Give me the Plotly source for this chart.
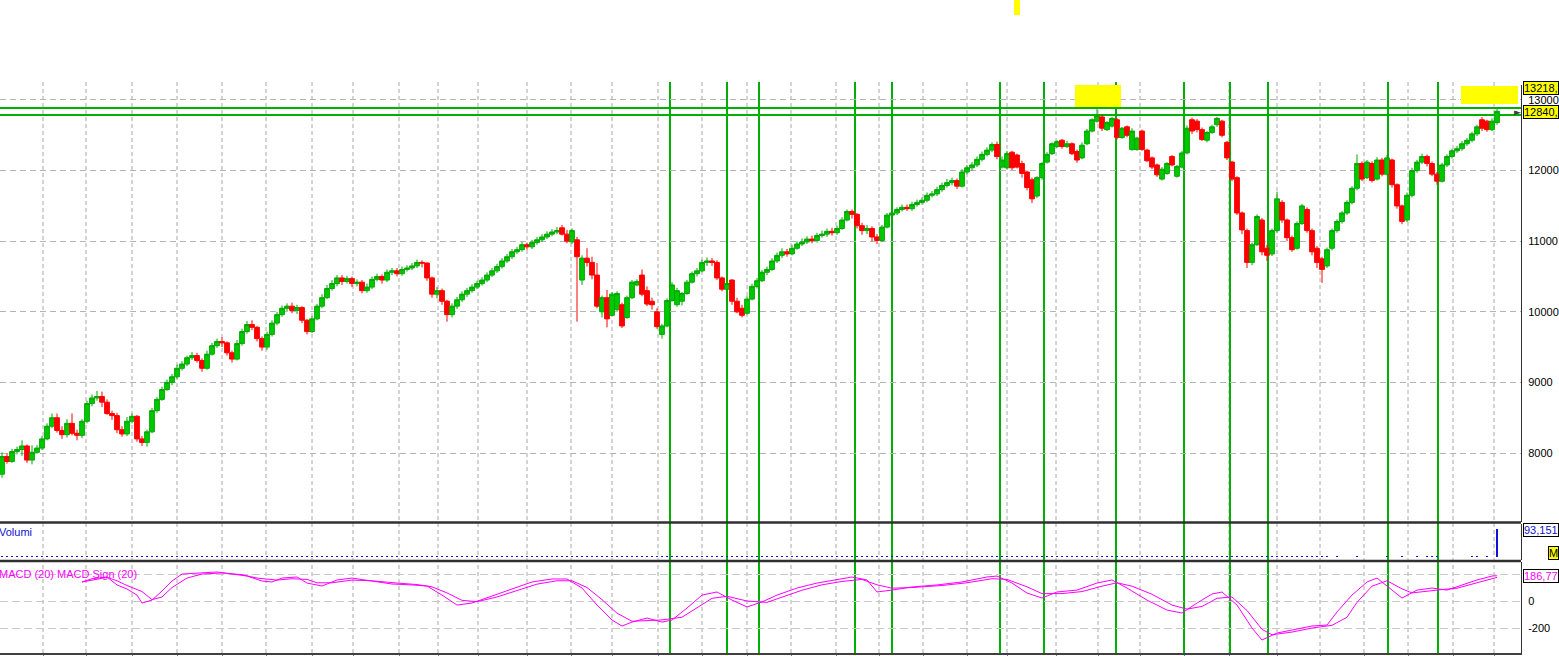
import plotly.graph_objects as go

# ---------------- data ----------------
opens = [
 7700,7950,7880,8020,8050,8100,7900,8010,8070,8200,8380,8500,8320,8260,8420,8280,8250,8450,8700,8780,
 8800,8720,8560,8530,8330,8270,8450,8520,8200,8150,8300,8600,8760,8900,9000,9080,9200,9260,9350,9380,
 9310,9200,9400,9520,9580,9560,9420,9330,9550,9720,9820,9780,9620,9500,9680,9840,9960,10050,10080,10020,
 10060,9880,9720,9900,10080,10200,10330,10400,10480,10430,10470,10400,10420,10300,10350,10460,10500,10450,10560,10580,
 10540,10600,10620,10650,10700,10690,10480,10250,10300,10150,9960,10080,10170,10250,10300,10350,10400,10450,10520,10580,
 10640,10720,10780,10850,10880,10950,10920,10980,11020,11060,11100,11130,11190,11100,10990,11020,10450,10760,10700,10520,
 10000,10200,9950,10030,10100,9920,10200,10380,10520,10300,10150,10000,9680,9800,10160,10100,10150,10260,10420,10540,
 10580,10700,10720,10700,10480,10320,10450,10150,10050,9980,10180,10360,10440,10560,10600,10720,10800,10850,10820,10900,
 10960,10990,11030,11010,11080,11100,11140,11120,11180,11300,11420,11380,11220,11150,11180,11060,11010,11200,11370,11400,
 11450,11480,11460,11520,11550,11580,11650,11670,11730,11790,11830,11860,11780,11980,12040,12080,12160,12230,12290,12370,
 12050,12040,12260,12220,12100,11980,11870,11640,11900,12120,12240,12340,12430,12340,12380,12270,12180,12380,12560,12700,
 12760,12580,12630,12720,12470,12620,12300,12300,12560,12290,12180,12080,11880,11960,12200,11920,12050,12250,12720,12700,
 12580,12430,12540,12650,12700,12400,12120,11900,11400,11150,10700,10950,11300,10900,10820,11150,11550,11300,11050,10900,
 11250,11450,11150,10900,10750,10650,10900,11150,11280,11400,11550,11750,12100,11900,12100,11880,12150,11950,12150,11800,
 11500,11300,11650,12000,12120,12200,12100,11950,11850,12080,12200,12280,12310,12380,12430,12520,12720,12700,12580,12680]
highs = [
 8010,8000,8060,8090,8180,8120,8110,8110,8240,8420,8560,8560,8380,8480,8560,8330,8480,8740,8830,8880,
 8870,8760,8600,8570,8380,8510,8560,8540,8240,8330,8640,8790,8940,9040,9120,9250,9300,9380,9430,9420,
 9340,9450,9560,9620,9640,9580,9450,9600,9760,9870,9880,9800,9650,9720,9880,10000,10090,10120,10130,10100,
 10080,9900,9940,10110,10250,10380,10450,10520,10520,10510,10500,10460,10450,10400,10500,10540,10530,10600,10620,10620,
 10640,10660,10690,10740,10730,10700,10500,10350,10330,10170,10120,10210,10290,10340,10390,10440,10490,10560,10620,10680,
 10760,10820,10890,10920,10990,10980,11020,11060,11100,11140,11170,11200,11230,11160,11180,11060,10800,10900,10780,10690,
 10230,10310,10280,10290,10130,10230,10450,10460,10600,10360,10200,10050,9830,10190,10420,10340,10280,10450,10570,10620,
 10740,10770,10760,10730,10500,10450,10460,10200,10100,10220,10400,10480,10590,10640,10760,10840,10900,10890,10950,11000,
 11040,11070,11080,11120,11150,11180,11190,11220,11340,11450,11450,11400,11260,11230,11210,11100,11230,11400,11440,11480,
 11520,11520,11560,11590,11620,11690,11710,11770,11830,11880,11900,11890,12020,12080,12120,12200,12270,12330,12400,12410,
 12200,12280,12280,12240,12140,12000,11900,11920,12120,12260,12400,12430,12450,12420,12400,12300,12400,12590,12740,12873,
 12790,12700,12760,12740,12620,12640,12600,12480,12580,12310,12200,12100,12050,12120,12220,12080,12280,12640,12750,12730,
 12610,12560,12650,12760,12720,12420,12140,11920,11420,11180,10980,11380,11330,10950,11180,11700,11580,11320,11080,11280,
 11530,11480,11180,10930,10780,10910,11180,11310,11430,11580,11780,12230,12130,12150,12130,12190,12180,12220,12170,11820,
 11520,11690,12040,12150,12240,12230,12130,11980,12110,12230,12310,12350,12420,12460,12550,12650,12760,12720,12740,12880]
lows = [
 7650,7850,7860,7980,7960,7860,7840,7990,8040,8180,8350,8290,8200,8220,8250,8180,8210,8420,8660,8740,
 8650,8540,8470,8280,8230,8240,8420,8160,8100,8090,8280,8570,8740,8880,8960,9050,9170,9230,9320,9280,
 9150,9180,9380,9490,9500,9380,9280,9310,9520,9690,9740,9580,9450,9460,9650,9810,9930,10000,9980,9970,
 9840,9680,9700,9880,10050,10180,10300,10360,10380,10400,10350,10360,10260,10270,10320,10430,10400,10420,10520,10500,
 10510,10570,10590,10620,10630,10440,10200,10190,10100,9860,9920,10040,10140,10210,10270,10320,10370,10420,10490,10550,
 10610,10690,10750,10820,10850,10880,10890,10950,10990,11030,11070,11100,11080,10970,10960,9860,10380,10640,10460,10050,
 9920,9780,9940,10000,9770,9900,10180,10360,10220,10080,10030,9760,9620,9780,10140,10070,10090,10240,10400,10500,
 10560,10650,10650,10450,10290,10250,10100,9980,9920,9960,10160,10330,10420,10520,10580,10690,10760,10780,10800,10880,
 10930,10960,10970,10980,11050,11060,11080,11090,11160,11280,11320,11180,11090,11100,11000,10960,10990,11180,11340,11370,
 11420,11430,11430,11490,11520,11550,11620,11640,11700,11760,11790,11740,11760,11950,12000,12050,12130,12200,12260,12160,
 12030,12020,12010,12030,11900,11720,11540,11610,11870,12100,12220,12320,12310,12320,12220,12110,12160,12360,12540,12680,
 12560,12560,12610,12440,12450,12470,12280,12280,12280,12120,12020,11910,11860,11940,12060,11900,12030,12230,12520,12540,
 12420,12400,12520,12620,12470,12150,11850,11370,11100,10620,10660,10930,10800,10720,10790,11120,11260,11000,10850,10880,
 11230,11120,10800,10620,10410,10620,10870,11120,11250,11370,11520,11720,11850,11880,11830,11860,11920,11930,11760,11460,
 11240,11270,11620,11970,12090,12060,11920,11800,11830,12050,12170,12250,12280,12350,12400,12490,12560,12550,12560,12650]
closes = [
 7950,7880,8020,8050,8100,7900,8010,8070,8200,8380,8500,8320,8260,8420,8280,8250,8450,8700,8780,8800,
 8720,8560,8530,8330,8270,8450,8520,8200,8150,8300,8600,8760,8900,9000,9080,9200,9260,9350,9380,9310,
 9200,9400,9520,9580,9560,9420,9330,9550,9720,9820,9780,9620,9500,9680,9840,9960,10050,10080,10020,10060,
 9880,9720,9900,10080,10200,10330,10400,10480,10430,10470,10400,10420,10300,10350,10460,10500,10450,10560,10580,10540,
 10600,10620,10650,10700,10690,10480,10250,10300,10150,9960,10080,10170,10250,10300,10350,10400,10450,10520,10580,10640,
 10720,10780,10850,10880,10950,10920,10980,11020,11060,11100,11130,11150,11100,11000,11150,10780,10760,10700,10520,10080,
 10200,9900,10250,10260,9800,10200,10420,10430,10250,10110,10100,9790,9800,10160,10380,10300,10260,10420,10540,10580,
 10700,10720,10700,10480,10320,10400,10150,10000,9950,10180,10360,10440,10560,10600,10720,10800,10850,10820,10900,10960,
 10990,11030,11010,11080,11100,11140,11120,11180,11300,11420,11380,11220,11150,11180,11060,11010,11200,11370,11400,11450,
 11480,11460,11520,11550,11580,11650,11670,11730,11790,11830,11860,11780,11980,12040,12080,12160,12230,12290,12370,12200,
 12150,12240,12040,12050,11960,11760,11600,11900,12100,12230,12380,12410,12340,12380,12240,12150,12360,12560,12720,12780,
 12600,12680,12740,12470,12600,12500,12560,12460,12300,12140,12050,11940,12020,12100,12080,12060,12250,12600,12560,12580,
 12440,12540,12620,12740,12500,12180,11880,11400,11160,10700,10950,11350,10850,10800,11150,11600,11300,11050,10880,11250,
 11500,11150,10850,10700,10600,10880,11150,11280,11400,11550,11750,12100,11880,12120,11860,12150,11950,12180,11800,11500,
 11280,11650,12000,12120,12200,12100,11950,11850,12080,12200,12280,12310,12380,12430,12520,12620,12600,12580,12700,12840]
bar_index = list(range(len(closes)))

volumes = [
 2,2,2,2,2,2,2,2,2,2,2,2,2,2,2,2,2,2,2,2,
 2,2,2,2,2,2,2,2,2,2,2,2,2,2,2,2,2,2,2,2,
 2,2,2,2,2,2,2,2,2,2,2,2,2,2,2,2,2,2,2,2,
 2,2,2,2,2,2,2,2,2,2,2,2,2,2,2,2,2,2,2,2,
 2,2,2,2,2,2,2,2,2,2,2,2,2,2,2,2,2,2,2,2,
 2,2,2,2,2,2,2,2,2,2,2,2,2,2,2,2,2,2,2,2,
 2,2,2,2,2,2,2,2,2,2,2,2,2,2,2,2,2,2,2,2,
 2,2,2,2,2,2,2,2,2,2,2,2,2,2,2,2,2,2,2,2,
 2,2,2,2,2,2,2,2,2,2,2,2,2,2,2,2,2,2,2,2,
 2,2,2,2,2,2,2,2,2,2,2,2,2,2,2,2,2,2,2,2,
 2,2,2,2,2,2,2,2,2,2,2,2,2,2,2,2,2,2,2,2,
 2,2,2,2,2,2,2,2,2,2,2,2,2,2,2,2,2,2,2,2,
 2,2,2,2,2,2,2,2,2,2,2,2,2,2,2,2,2,2,2,2,
 2,2,2,2,2,2,0,2,0,0,0,2,0,0,0,0,0,2,0,0,
 2,0,0,2,0,2,2,2,0,0,0,0,0,0,2,2,0,2,0,93.151]

macd_x = [16,18,21,23,25,27,28,30,32,34,36,39,43,46,49,52,54,56,59,61,64,67,70,74,78,82,85,88,91,94,98,102,106,110,113,
          116,119,122,124,126,129,132,134,137,140,143,146,149,152,155,159,163,167,170,173,175,178,182,187,192,197,199,
          202,205,208,211,215,219,222,225,229,233,236,239,242,244,247,250,252,255,258,262,265,267,270,273,275,278,280,
          283,286,289,292,295,298,299]
macd_vals = [141,165,178,119,89,44,-15,7,74,148,200,207,215,200,185,148,141,170,178,133,111,156,170,148,126,119,111,44,-30,-15,37,89,141,163,163,
             96,-30,-141,-185,-156,-126,-156,-141,-52,44,67,7,-44,-7,44,96,133,156,178,156,67,81,104,119,141,178,185,
             133,59,22,67,81,133,156,96,7,-67,-89,-15,52,67,-30,-200,-289,-237,-215,-185,-178,-81,44,141,170,81,22,
             81,96,81,119,156,185,187]
signal_x = [16,19,21,23,25,28,30,32,34,37,40,44,48,51,55,58,61,63,66,70,74,79,83,86,89,92,95,99,103,107,111,114,
            117,120,123,126,129,132,136,139,142,145,149,153,156,160,164,168,172,175,178,182,188,193,198,
            201,205,208,212,216,220,223,226,230,234,237,240,243,246,249,252,254,258,262,266,269,271,274,277,
            280,282,285,288,291,294,297,299]
signal_vals = [141,160,175,150,115,70,10,30,100,170,200,208,195,170,155,165,160,135,135,155,150,133,122,105,60,5,-5,30,80,125,150,150,
               100,10,-90,-150,-145,-140,-120,-50,20,35,0,-10,30,80,120,145,160,120,95,100,115,135,165,
               160,105,55,55,70,110,135,110,50,-30,-60,-40,20,30,-70,-210,-250,-230,-200,-180,-120,-10,110,150,
               90,60,75,85,95,125,160,175]

month_starts = [8.2,16.8,26,35,44,52.8,62,70.2,79.4,87.2,95.2,105,113.8,122,131.2,140,149,157.8,166.8,175.4,
                184.2,193,201,210.8,219.2,227.6,236.4,245.4,255,263.6,272.4,281.2,290.2,298.4]
marker_days = [133.6,145,151.4,170.6,178,199.6,208.4,222.8,236.4,245.6,253.2,277.2,287.2]
level_lines = [12887, 12788]
price_ticks = [8000, 9000, 10000, 11000, 12000, 13000]
price_ticktext = ["8000", "9000", "10000", "11000", "12000", "13000"]
macd_ticks = [200, 0, -200]
macd_ticktext = ["", "0", "-200"]
axis_top, last_close = 13218, 12840
last_volume, last_macd = "93,151", "186,77"

# ---------------- layout helpers (pixel -> paper) ----------------
H_PLOT = 653.0
W_PLOT = 1521.0
def py(p):
    return (H_PLOT - p) / H_PLOT
def px(p):
    return p / W_PLOT

FONT = "Liberation Sans, Arial, sans-serif"

fig = go.Figure()
fig.add_trace(go.Candlestick(
    x=bar_index, open=opens, high=highs, low=lows, close=closes,
    increasing=dict(line=dict(color="#00A800", width=1), fillcolor="#00C800"),
    decreasing=dict(line=dict(color="#FF0000", width=1), fillcolor="#FF0000"),
    whiskerwidth=0, xaxis="x", yaxis="y", showlegend=False, hoverinfo="skip"))
fig.add_trace(go.Bar(x=bar_index, y=volumes, marker=dict(color="#1010E0", line=dict(width=0)),
                     width=0.3, xaxis="x", yaxis="y2", showlegend=False, hoverinfo="skip"))
fig.add_trace(go.Scatter(x=macd_x, y=macd_vals, mode="lines", line=dict(color="#FF00FF", width=1),
                         xaxis="x", yaxis="y3", showlegend=False, hoverinfo="skip"))
fig.add_trace(go.Scatter(x=signal_x, y=signal_vals, mode="lines", line=dict(color="#FF00FF", width=1),
                         xaxis="x", yaxis="y3", showlegend=False, hoverinfo="skip"))

shapes = []
for m in month_starts:
    shapes.append(dict(type="line", xref="x", yref="paper", x0=m, x1=m, y0=0, y1=py(82),
                       line=dict(color="#A8A8A8", width=1, dash="4px,3px"), layer="below"))
for g in marker_days:
    shapes.append(dict(type="line", xref="x", yref="paper", x0=g, x1=g, y0=0, y1=py(82),
                       line=dict(color="#00B000", width=2), layer="below"))
for lv in level_lines:
    shapes.append(dict(type="line", xref="paper", yref="y", x0=0, x1=1, y0=lv, y1=lv,
                       line=dict(color="#00B000", width=2), layer="below"))
# panel separators
for sep in (522.5, 561):
    shapes.append(dict(type="line", xref="paper", yref="paper", x0=0, x1=1, y0=py(sep), y1=py(sep),
                       line=dict(color="#303030", width=2.5)))
# highlighter marks
shapes.append(dict(type="rect", xref="paper", yref="paper", x0=px(1075), x1=px(1121), y0=py(107), y1=py(85),
                   fillcolor="#FFFF00", line=dict(width=0), layer="above"))
shapes.append(dict(type="rect", xref="paper", yref="paper", x0=px(1461), x1=px(1518), y0=py(104), y1=py(86),
                   fillcolor="#FFFF00", line=dict(width=0), layer="above"))
shapes.append(dict(type="rect", xref="paper", yref="paper", x0=px(1014), x1=px(1020), y0=py(15), y1=py(0),
                   fillcolor="#FFFF00", line=dict(width=0), layer="above"))

ann = []
ann.append(dict(text="Volumi", xref="paper", yref="paper", x=0, y=py(524), xanchor="left", yanchor="top",
                xshift=-3, showarrow=False, font=dict(family=FONT, size=11, color="#1010D0")))
ann.append(dict(text="MACD (20) MACD Sign (20)", xref="paper", yref="paper", x=0, y=py(566), xanchor="left",
                yanchor="top", xshift=-3, showarrow=False, font=dict(family=FONT, size=11, color="#FF00FF")))
def box(text, ypix, color, bg, xpix=1523):
    return dict(text=text, xref="paper", yref="paper", x=px(xpix), y=py(ypix), xanchor="left", yanchor="middle",
                showarrow=False, bgcolor=bg, bordercolor="#000000", borderwidth=1, borderpad=0,
                font=dict(family=FONT, size=11, color=color))
ann.append(box(f"{axis_top},", 88, "#000000", "#FFFF00"))
ann.append(box(f"{last_close},", 112, "#000000", "#FFFF00"))
ann.append(box(last_volume, 530, "#1010D0", "#FFFFFF"))
ann.append(box("M", 553, "#000000", "#FFFF00", xpix=1548))
ann.append(box(last_macd, 576, "#FF00FF", "#FFFFFF"))
ann.append(dict(text="►", xref="paper", yref="paper", x=px(1517), y=py(112), xanchor="center", yanchor="middle",
                showarrow=False, font=dict(family="DejaVu Sans", size=9, color="#404040")))

fig.update_layout(
    width=1559, height=656,
    margin=dict(l=0, r=38, t=0, b=3),
    paper_bgcolor="#FFFFFF", plot_bgcolor="#FFFFFF",
    showlegend=False, bargap=0, boxgap=0.05, boxgroupgap=0,
    font=dict(family=FONT, size=11, color="#000000"),
    xaxis=dict(domain=[0, 1], range=[-0.4, 303.8], anchor="y3", showgrid=False, zeroline=False,
               showline=True, linecolor="#404040", linewidth=2, ticks="outside", tickvals=month_starts,
               ticklen=4, tickcolor="#7070FF", showticklabels=False, rangeslider=dict(visible=False),
               fixedrange=True),
    yaxis=dict(domain=[py(522), py(84.6)], range=[7023, axis_top], side="right", anchor="x",
               showgrid=True, gridcolor="#B4B4B4", griddash="6px,4px", gridwidth=1,
               tickvals=price_ticks, ticktext=price_ticktext, ticks="", ticklabelstandoff=4, zeroline=False,
               showline=True, linecolor="#303030", linewidth=1, tickfont=dict(family=FONT, size=11)),
    yaxis2=dict(domain=[py(560), py(524)], range=[-10, 110], side="right", anchor="x", showgrid=False,
                showticklabels=False, zeroline=False, showline=True, linecolor="#303030", linewidth=1),
    yaxis3=dict(domain=[0, py(562)], range=[-385, 289], side="right", anchor="x",
                showgrid=True, gridcolor="#C8C8C8", griddash="8px,4px", tickvals=macd_ticks,
                ticktext=macd_ticktext, ticks="", ticklabelstandoff=4, zeroline=False,
                showline=True, linecolor="#303030", linewidth=1, tickfont=dict(family=FONT, size=11)),
    shapes=shapes, annotations=ann,
)
fig.write_html("out.html", config={"displayModeBar": False},
               post_script="document.body.style.margin='0px';")
